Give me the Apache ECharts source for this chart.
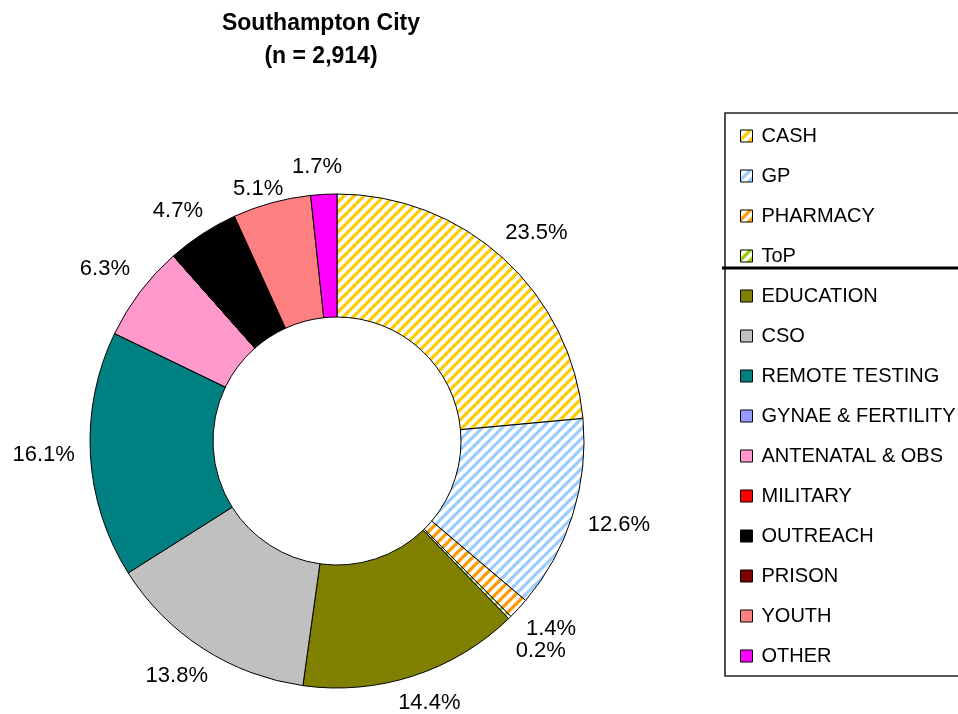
<!DOCTYPE html>
<html>
<head>
<meta charset="utf-8">
<script src="https://cdn.jsdelivr.net/npm/echarts@6/dist/echarts.min.js"></script>
<style>html,body{margin:0;padding:0;background:#fff}#c{width:958px;height:714px}</style>
</head>
<body>
<div id="c"></div>
<script>
const categories = ['CASH','GP','PHARMACY','ToP','EDUCATION','CSO','REMOTE TESTING','GYNAE & FERTILITY','ANTENATAL & OBS','MILITARY','OUTREACH','PRISON','YOUTH','OTHER'];
const percents = [23.5, 12.6, 1.4, 0.2, 14.4, 13.8, 16.1, 0, 6.3, 0, 4.7, 0, 5.1, 1.7];
const colors = ['#FFCC00','#99CCFF','#FF9900','#99CC00','#808000','#C0C0C0','#008080','#9999FF','#FF99CC','#FF0000','#000000','#800000','#FF8080','#FF00FF'];
const hatched = [true, true, true, true, false, false, false, false, false, false, false, false, false, false];
const titleText = 'Southampton City\n(n = 2,914)';

function stripe(color){
  const s = 10;
  const cv = document.createElement('canvas');
  cv.width = s; cv.height = s;
  const ctx = cv.getContext('2d');
  ctx.fillStyle = '#fff'; ctx.fillRect(0,0,s,s);
  ctx.strokeStyle = color; ctx.lineWidth = 3.2;
  ctx.beginPath();
  ctx.moveTo(0, s); ctx.lineTo(s, 0);
  ctx.moveTo(-s/2, s/2); ctx.lineTo(s/2, -s/2);
  ctx.moveTo(s/2, s*1.5); ctx.lineTo(s*1.5, s/2);
  ctx.stroke();
  return {image: cv, repeat: 'repeat'};
}

const CX = 337, CY = 441, OUTER = 247, INNER = 124, GAP = 15;

const data = categories.map((n, i) => ({
  name: n,
  value: percents[i],
  itemStyle: {color: hatched[i] ? stripe(colors[i]) : colors[i]},
  label: {show: percents[i] > 0}
}));

const chart = echarts.init(document.getElementById('c'), null, {renderer: 'canvas'});
chart.setOption({
  animation: false,
  backgroundColor: '#fff',
  title: {
    text: titleText,
    left: 316, top: 2, textAlign: 'center',
    textStyle: {fontFamily: 'Liberation Sans, Arial', fontSize: 23, fontWeight: 'bold', lineHeight: 33, color: '#000'}
  },
  legend: {
    orient: 'vertical',
    left: 735, top: 120,
    itemWidth: 12, itemHeight: 12, itemGap: 18,
    icon: 'rect',
    itemStyle: {borderColor: '#000', borderWidth: 1},
    textStyle: {fontFamily: 'Liberation Sans, Arial', fontSize: 20, lineHeight: 22, color: '#000', padding: [0,0,0,4]},
    data: categories
  },
  graphic: [
    {type: 'rect', shape: {x: 725, y: 113, width: 300, height: 563}, style: {fill: 'none', stroke: '#222', lineWidth: 1.6}, z: 10},
    {type: 'line', shape: {x1: 722, y1: 268, x2: 960, y2: 268}, style: {stroke: '#000', lineWidth: 3}, z: 10}
  ],
  series: [{
    type: 'pie',
    center: [CX, CY],
    radius: [INNER, OUTER],
    startAngle: 90,
    clockwise: true,
    avoidLabelOverlap: false,
    stillShowZeroSum: true,
    itemStyle: {borderColor: '#000', borderWidth: 1},
    label: {
      position: 'outside',
      fontFamily: 'Liberation Sans, Arial',
      fontSize: 22,
      color: '#000',
      padding: [6, 0, 6, 0],
      formatter: p => p.value.toFixed(1) + '%'
    },
    labelLine: {show: false, length: 15, length2: 0},
    emphasis: {disabled: true},
    labelLayout: function (p) {
      const r = p.labelRect;
      if (!r) return {};
      const w = r.width, h = r.height;
      const left = (r.x + w / 2) < CX;
      const ax = left ? r.x + w : r.x;
      const ay = r.y + h / 2;
      let dx = ax - CX, dy = ay - CY;
      const d = Math.hypot(dx, dy) || 1;
      dx /= d; dy /= d;
      const R = OUTER + GAP + Math.abs(dx) * w / 2 + Math.abs(dy) * h / 2;
      return {x: CX + dx * R, y: CY + dy * R, align: 'center', verticalAlign: 'middle', moveOverlap: 'shiftY'};
    },
    data: data
  }]
});
</script>
</body>
</html>
